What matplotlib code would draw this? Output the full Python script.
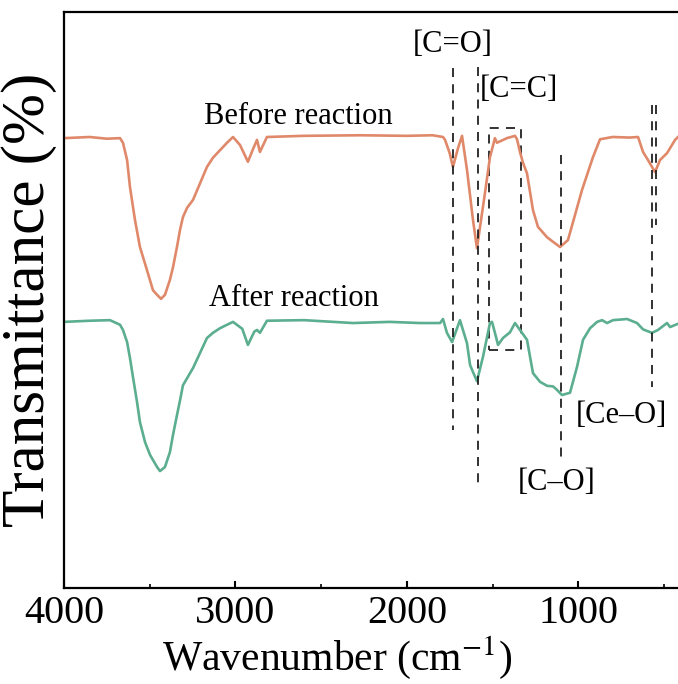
import matplotlib
matplotlib.use("Agg")
import matplotlib.pyplot as plt
from matplotlib.patches import Rectangle

plt.rcParams['font.family'] = ['Liberation Serif', 'DejaVu Serif']
plt.rcParams['mathtext.fontset'] = 'stix'

# spectra (wavenumber in cm-1, offset transmittance a.u.)
before_wn = [4000, 3850, 3750, 3673, 3656, 3632, 3615, 3586, 3557, 3516, 3481, 3457,
             3434, 3411, 3382, 3364, 3341, 3323, 3306, 3282, 3247, 3166, 3131, 3090,
             3049, 3014, 2973, 2927, 2900, 2874, 2857, 2816, 2600, 2273,
             2000, 1850, 1789, 1777, 1750, 1731, 1700, 1678, 1649, 1614, 1591, 1544,
             1515, 1486, 1474, 1416, 1369, 1357, 1340, 1322, 1299, 1264, 1235, 1182,
             1147, 1106, 1060, 978, 914, 873, 800, 700, 651, 622, 593, 552, 523, 482,
             435, 418]
before_t = [78.1, 78.3, 78.0, 78.1, 77.3, 74.3, 69.6, 63.9, 59.2, 55.2, 51.7, 50.9,
            50.2, 50.9, 53.5, 55.7, 59.2, 62.2, 64.4, 66.0, 67.4, 73.1, 74.7, 76.0,
            77.3, 78.3, 76.9, 74.0, 76.0, 77.8, 75.7, 78.3, 78.5, 78.6,
            78.5, 78.6, 78.3, 77.8, 75.5, 73.1, 76.5, 78.5, 72.6, 63.9, 59.0, 68.6,
            74.8, 78.1, 77.3, 78.1, 78.5, 77.9, 75.7, 73.8, 72.0, 65.6, 62.7, 60.9,
            60.1, 59.2, 60.4, 69.1, 74.8, 77.9, 78.3, 78.2, 78.3, 75.7, 74.3, 72.2,
            74.3, 75.5, 77.8, 78.3]

after_wn = [4000, 3850, 3732, 3673, 3656, 3632, 3615, 3597, 3574, 3557, 3527, 3498,
            3457, 3440, 3411, 3382, 3364, 3341, 3323, 3306, 3247, 3166, 3131, 3090,
            3049, 3014, 2960, 2927, 2890, 2874, 2857, 2816, 2600, 2314,
            2100, 1923, 1806, 1789, 1766, 1736, 1690, 1649, 1631, 1614, 1591, 1556,
            1515, 1503, 1486, 1468, 1439, 1398, 1369, 1340, 1299, 1264, 1223, 1182,
            1147, 1124, 1095, 1048, 1007, 972, 931, 890, 861, 832, 797, 715, 657,
            622, 570, 535, 482, 464, 424]
after_t = [46.2, 46.4, 46.5, 45.7, 44.8, 42.7, 39.9, 36.5, 32.3, 28.8, 25.3, 23.1,
           21.0, 20.3, 21.0, 23.6, 26.6, 30.0, 32.6, 35.2, 38.2, 43.4, 44.3, 45.1,
           45.7, 46.2, 45.0, 42.2, 44.5, 44.8, 44.3, 46.4, 46.5, 46.0,
           46.2, 46.0, 46.0, 46.7, 44.3, 42.7, 46.5, 42.5, 38.7, 37.5, 35.9, 40.1,
           46.0, 46.2, 44.3, 42.2, 43.4, 44.4, 46.0, 44.8, 43.1, 37.3, 35.8, 35.1,
           35.0, 34.4, 33.5, 33.9, 38.4, 43.1, 45.1, 46.2, 46.5, 46.0, 46.5, 46.7,
           46.0, 44.9, 44.3, 44.8, 46.0, 45.3, 45.8]

# marker lines: position, top, bottom
mark_wn = [1731, 1585, 1100, 570, 546]
mark_top = [90.3, 90.5, 75.2, 83.9, 83.9]
mark_bot = [27.4, 17.5, 22.6, 34.9, 63.0]

labels = ['[C=O]', '[C=C]', '[Ce–O]', '[C–O]']
label_wn = [1731, 1346, 750, 1124]
label_t = [94.3, 86.5, 30.0, 18.4]

c_before = '#E0896A'
c_after = '#5BAE8F'

fig = plt.figure(figsize=(6.78, 6.84), dpi=100)
ax = fig.add_axes([64 / 678, 96 / 684, 614 / 678, 576 / 684])

ax.plot(before_wn, before_t, color=c_before, lw=1.9, solid_joinstyle='round')
ax.plot(after_wn, after_t, color=c_after, lw=1.9, solid_joinstyle='round')

for w, t0, t1 in zip(mark_wn, mark_top, mark_bot):
    ax.plot([w, w], [t0, t1], color='#222222', lw=1.3, ls=(0, (5, 4)))

ax.add_patch(Rectangle((1520, 41.3), 1334 - 1520, 79.9 - 41.3, fill=False,
                       ec='#222222', lw=1.3, ls=(0, (5, 4))))

for s, w, t in zip(labels, label_wn, label_t):
    ax.text(w, t, s, ha='center', va='center', fontsize=22)

ax.text(2635, 81.8, 'Before reaction', ha='center', va='center', fontsize=22)
ax.text(2658, 50.2, 'After reaction', ha='center', va='center', fontsize=22)

ax.set_xlim(4000, 418)
ax.set_ylim(0, 100)
ax.set_xticks([4000, 3000, 2000, 1000])
ax.set_xticks([3500, 2500, 1500, 500], minor=True)
ax.set_yticks([])
ax.tick_params(axis='x', direction='in', length=5, width=1.5, labelsize=29, pad=5)
ax.tick_params(axis='x', which='minor', direction='in', length=3, width=1.2)
for side in ['left', 'bottom', 'top']:
    ax.spines[side].set_linewidth(1.6)
ax.spines['right'].set_visible(False)

ax.set_xlabel('Wavenumber (cm$^{-1}$)', fontsize=30)
ax.xaxis.set_label_coords(0.445, -0.08)
ax.set_ylabel('Transmittance (%)', fontsize=44)
ax.yaxis.set_label_coords(-0.012, 0.5)

fig.savefig('out.png', dpi=100)
